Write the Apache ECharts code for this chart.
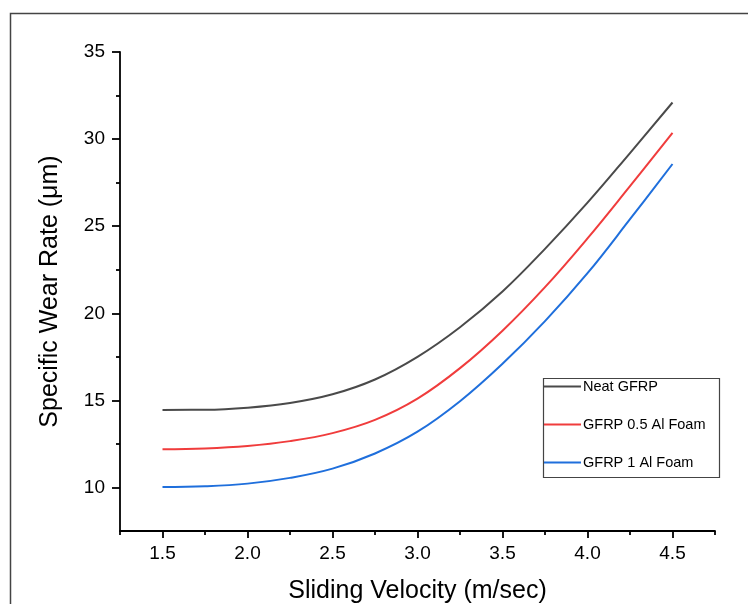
<!DOCTYPE html>
<html>
<head>
<meta charset="utf-8">
<script src="https://cdn.jsdelivr.net/npm/echarts@6/dist/echarts.min.js"></script>
<style>
  html, body { margin: 0; padding: 0; background: #fff; }
  #chart { width: 748px; height: 604px; }
</style>
</head>
<body>
<div id="chart"></div>
<script>
// Sliding velocity (m/sec) sample points
const velocity = [1.5, 1.75, 2.0, 2.25, 2.5, 2.75, 3.0, 3.25, 3.5, 3.75, 4.0, 4.25, 4.5];

// Specific wear rate (µm) for each material
const neatGFRP    = [14.45, 14.46, 14.58, 14.85, 15.35, 16.2, 17.5, 19.2, 21.25, 23.7, 26.35, 29.2, 32.1];
const gfrp05Foam  = [12.2, 12.24, 12.38, 12.66, 13.12, 13.88, 15.1, 16.85, 19.0, 21.5, 24.3, 27.3, 30.35];
const gfrp1Foam   = [10.03, 10.07, 10.22, 10.55, 11.08, 11.95, 13.2, 14.95, 17.1, 19.55, 22.3, 25.4, 28.57];

const seriesNames = ['Neat GFRP', 'GFRP 0.5 Al Foam', 'GFRP 1 Al Foam'];

// Axis ticks
const xMajorTicks = [1.5, 2.0, 2.5, 3.0, 3.5, 4.0, 4.5];
const xMinorTicks = [1.25, 1.75, 2.25, 2.75, 3.25, 3.75, 4.25, 4.75];
const yMajorTicks = [10, 15, 20, 25, 30, 35];
const yMinorTicks = [12.5, 17.5, 22.5, 27.5, 32.5];

const FONT = '"Liberation Sans", Arial, sans-serif';
const colors = ['#4a4a4a', '#f03c3c', '#1f6fdc'];

const pairs = (ys) => velocity.map((x, i) => [x, ys[i]]);

const chart = echarts.init(document.getElementById('chart'), null, { renderer: 'canvas' });

const axisLineStyle = { color: '#000', width: 1.8 };
const tickStyle = { color: '#000', width: 1.8 };

chart.setOption({
  backgroundColor: '#fff',
  animation: false,
  grid: { left: 120, right: 33, top: 52, bottom: 73, containLabel: false, outerBoundsMode: 'none' },
  xAxis: [
    {
      type: 'value', min: 1.25, max: 4.75,
      name: 'Sliding Velocity (m/sec)', nameLocation: 'middle', nameGap: 48,
      nameTextStyle: { fontFamily: FONT, fontSize: 25, color: '#000' },
      axisLine: { lineStyle: axisLineStyle },
      axisTick: { show: true, inside: false, length: 7, customValues: xMajorTicks, lineStyle: tickStyle },
      axisLabel: { customValues: xMajorTicks, margin: 13, fontFamily: FONT, fontSize: 19, color: '#000',
                   formatter: (v) => v.toFixed(1) },
      splitLine: { show: false }
    },
    {
      type: 'value', min: 1.25, max: 4.75, position: 'bottom',
      axisLine: { show: false },
      axisTick: { show: true, inside: false, length: 4, customValues: xMinorTicks, lineStyle: tickStyle },
      axisLabel: { show: false },
      splitLine: { show: false }
    }
  ],
  yAxis: [
    {
      type: 'value', min: 7.5, max: 35,
      name: 'Specific Wear Rate (\u03bcm)', nameLocation: 'middle', nameGap: 57, nameRotate: 90,
      nameTextStyle: { fontFamily: FONT, fontSize: 25, color: '#000' },
      axisLine: { show: true, lineStyle: axisLineStyle },
      axisTick: { show: true, inside: false, length: 8, customValues: yMajorTicks, lineStyle: tickStyle },
      axisLabel: { customValues: yMajorTicks, margin: 15, fontFamily: FONT, fontSize: 19, color: '#000' },
      splitLine: { show: false }
    },
    {
      type: 'value', min: 7.5, max: 35, position: 'left',
      axisLine: { show: false },
      axisTick: { show: true, inside: false, length: 4, customValues: yMinorTicks, lineStyle: tickStyle },
      axisLabel: { show: false },
      splitLine: { show: false }
    }
  ],
  legend: {
    orient: 'vertical',
    left: 543, top: 379,
    padding: 0,
    itemWidth: 37, itemHeight: 14, itemGap: 23,
    itemStyle: { color: 'rgba(0,0,0,0)', borderColor: 'rgba(0,0,0,0)', borderWidth: 0 },
    textStyle: { fontFamily: FONT, fontSize: 14.5, color: '#000', padding: [0, 0, 0, -3] },
    data: seriesNames
  },
  graphic: [
    // outer frame around the figure
    { type: 'rect', silent: true, shape: { x: 10.5, y: 13.5, width: 800, height: 700 },
      style: { fill: 'none', stroke: '#444', lineWidth: 1.5 } },
    // legend box
    { type: 'rect', silent: true, shape: { x: 543.5, y: 378.5, width: 176, height: 99 },
      style: { fill: 'none', stroke: '#444', lineWidth: 1.2 } }
  ],
  series: [
    { name: seriesNames[0], type: 'line', data: pairs(neatGFRP), smooth: 0.4, symbol: 'none',
      lineStyle: { color: colors[0], width: 2 }, itemStyle: { color: colors[0] } },
    { name: seriesNames[1], type: 'line', data: pairs(gfrp05Foam), smooth: 0.4, symbol: 'none',
      lineStyle: { color: colors[1], width: 2 }, itemStyle: { color: colors[1] } },
    { name: seriesNames[2], type: 'line', data: pairs(gfrp1Foam), smooth: 0.4, symbol: 'none',
      lineStyle: { color: colors[2], width: 2 }, itemStyle: { color: colors[2] } }
  ]
});
</script>
</body>
</html>
